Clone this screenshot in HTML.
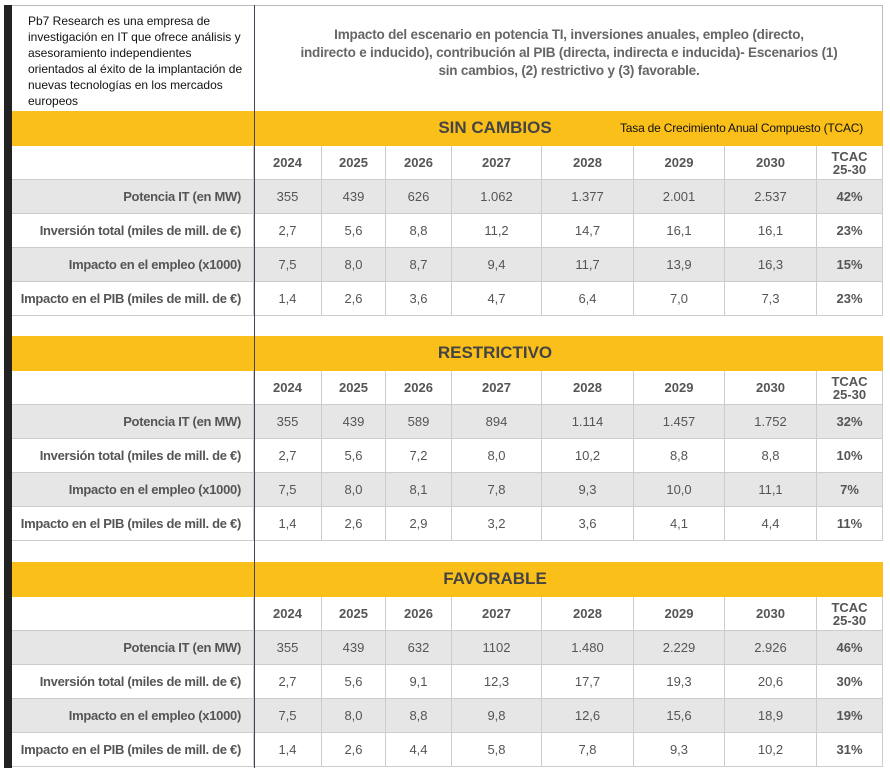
<!DOCTYPE html>
<html><head><meta charset="utf-8">
<style>
body{margin:0;width:890px;height:774px;background:#fff;position:relative;overflow:hidden;font-family:"Liberation Sans",sans-serif;}
.a{position:absolute;box-sizing:border-box;}
.cell{position:absolute;box-sizing:border-box;display:flex;align-items:center;justify-content:center;font-size:13px;color:#555;border-right:1px solid #ccc;border-bottom:1px solid #ccc;}
.lbl{justify-content:flex-end;padding-right:12px;font-weight:bold;color:#555;font-size:13px;letter-spacing:-0.3px;}
.hd{font-weight:bold;color:#555;}
.tc{font-weight:bold;color:#555;}
</style></head><body>
<div class="a" style="left:4px;top:5px;width:8px;height:763px;background:#222"></div>
<div class="a" style="left:12px;top:5px;width:871px;height:1px;background:#bbb"></div>
<div class="a" style="left:882px;top:5px;width:1px;height:106px;background:#bbb"></div>
<div class="a" style="left:28px;top:13px;width:222px;font-size:12px;line-height:16px;color:#111">Pb7 Research es una empresa de investigación en IT que ofrece análisis y asesoramiento independientes orientados al éxito de la implantación de nuevas tecnologías en los mercados europeos</div>
<div class="a" style="left:256px;top:26px;width:626px;text-align:center;font-size:13.5px;line-height:18px;font-weight:bold;color:#666;letter-spacing:-0.2px">Impacto del escenario en potencia TI, inversiones anuales, empleo (directo,<br>indirecto e inducido), contribución al PIB (directa, indirecta e inducida)- Escenarios (1)<br>sin cambios, (2) restrictivo y (3) favorable.</div>
<div id="root"></div>
<div class="a" style="left:254px;top:5px;width:1px;height:763px;background:#445"></div>
<script>
const years=["2024","2025","2026","2027","2028","2029","2030"];
const rowLabels=["Potencia IT (en MW)","Inversión total (miles de mill. de €)","Impacto en el empleo (x1000)","Impacto en el PIB (miles de mill. de €)"];
const scenarioNames=["SIN CAMBIOS","RESTRICTIVO","FAVORABLE"];
const sinCambios=[["355","439","626","1.062","1.377","2.001","2.537"],["2,7","5,6","8,8","11,2","14,7","16,1","16,1"],["7,5","8,0","8,7","9,4","11,7","13,9","16,3"],["1,4","2,6","3,6","4,7","6,4","7,0","7,3"]];
const sinCambiosTcac=["42%","23%","15%","23%"];
const restrictivo=[["355","439","589","894","1.114","1.457","1.752"],["2,7","5,6","7,2","8,0","10,2","8,8","8,8"],["7,5","8,0","8,1","7,8","9,3","10,0","11,1"],["1,4","2,6","2,9","3,2","3,6","4,1","4,4"]];
const restrictivoTcac=["32%","10%","7%","11%"];
const favorable=[["355","439","632","1102","1.480","2.229","2.926"],["2,7","5,6","9,1","12,3","17,7","19,3","20,6"],["7,5","8,0","8,8","9,8","12,6","15,6","18,9"],["1,4","2,6","4,4","5,8","7,8","9,3","10,2"]];
const favorableTcac=["46%","30%","19%","31%"];
const values=[sinCambios,restrictivo,favorable];
const tcacs=[sinCambiosTcac,restrictivoTcac,favorableTcac];
const tops=[111,336,562];
const cols=[12,254,322,386,452,542,634,725,817,883];
const R=34;
const root=document.getElementById('root');
function mk(cls,x,y,w,h,txt,bg){const d=document.createElement('div');d.className=cls;d.style.left=x+'px';d.style.top=y+'px';d.style.width=w+'px';d.style.height=h+'px';if(bg)d.style.background=bg;if(txt!==undefined)d.innerHTML=txt;root.appendChild(d);return d;}
scenarioNames.forEach((name,s)=>{
  const t=tops[s];
  const band=mk('a',12,t,871,R+1,'','#fbbf1a');
  
  
  const tt=mk('a',395,t,200,R,name);
  tt.style.cssText+='display:flex;align-items:center;justify-content:center;font-weight:bold;font-size:17px;color:#444;';
  
  
  if(s===0){const n=mk('a',620,t,262,R,'Tasa de Crecimiento Anual Compuesto (TCAC)');n.style.cssText+='display:flex;align-items:center;font-size:12px;color:#111;letter-spacing:-0.2px;';
    
    }
  const hy=t+R+1;
  const e=mk('cell',12,hy,242,R,'');
  
  
  years.forEach((y,i)=>{const c=mk('cell hd',cols[i+1],hy,cols[i+2]-cols[i+1],R,y);
    
    });
  const th=mk('cell hd',cols[8],hy,cols[9]-cols[8],R,'TCAC<br>25-30');th.style.lineHeight='13px';th.style.textAlign='center';
  
  
  rowLabels.forEach((lab,r)=>{
    const y=hy+R*(r+1);const bg=r%2===0?'#e6e6e6':'#fff';
    const l=mk('cell lbl',12,y,242,R,lab,bg);
    
    
    values[s][r].forEach((v,i)=>{const c=mk('cell',cols[i+1],y,cols[i+2]-cols[i+1],R,v,bg);
      
      });
    const c=mk('cell tc',cols[8],y,cols[9]-cols[8],R,tcacs[s][r],bg);
    
    
  });
});
</script>
</body></html>
